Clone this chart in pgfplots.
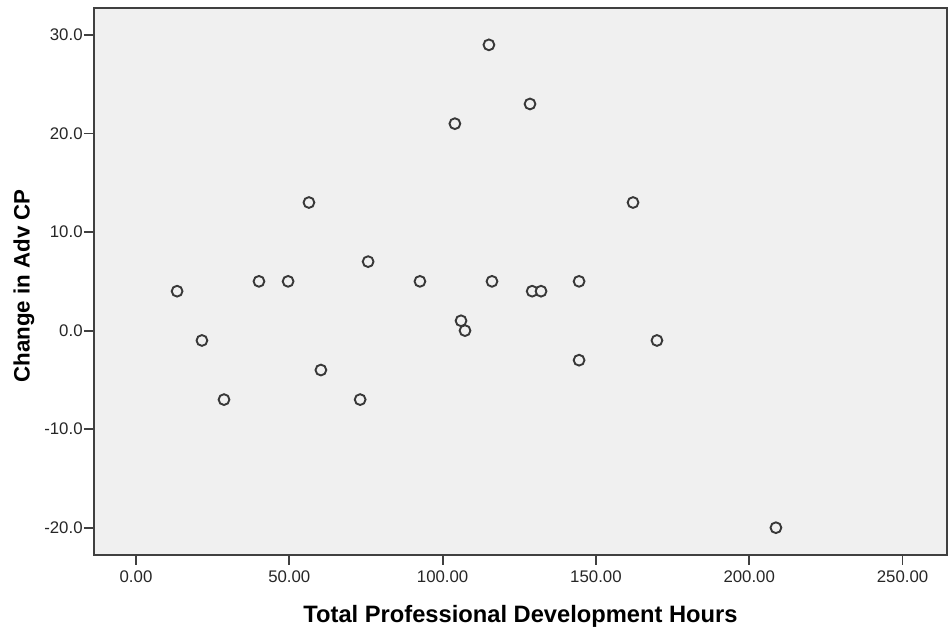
\documentclass[border=0pt]{standalone}
\usepackage{pgfplots}
\pgfplotsset{compat=1.18}
\usepackage{fontspec}
\setmainfont{Liberation Sans}
\definecolor{bgc}{HTML}{F0F0F0}
\definecolor{axc}{HTML}{404040}
\definecolor{mk}{HTML}{383838}
\begin{document}
\begin{tikzpicture}[x=1bp,y=1bp]
\useasboundingbox (-94,-80) rectangle (854,555);
\begin{axis}[
  at={(0,0)}, anchor=south west,
  scale only axis, width=853bp, height=547bp,
  xmin=-13.7, xmax=264.5, ymin=-22.77, ymax=32.74,
  axis background/.style={fill=bgc},
  axis line style={axc, line width=1.8bp},
  xtick={0,50,100,150,200,250},
  ytick={-20,-10,0,10,20,30},
  tick align=outside, tick pos=left,
  major tick length=10bp,
  tick style={axc, line width=1.8bp},
  /pgf/number format/assume math mode=true,
  xticklabel={\pgfmathprintnumber[fixed,fixed zerofill,precision=2]{\tick}},
  yticklabel={\pgfmathprintnumber[fixed,fixed zerofill,precision=1]{\tick}},
  ticklabel style={font=\fontsize{16.8bp}{19bp}\selectfont, text=black!85, inner sep=1.2bp},
  xticklabel style={yshift=-4.5bp},
  xlabel={\textbf{Total Professional Development Hours}},
  ylabel={\textbf{Change in Adv CP}},
  xlabel style={font=\fontsize{23.7bp}{26bp}\selectfont, at={(axis description cs:0.5,-0.1225)}, anchor=base},
  ylabel style={font=\fontsize{22.3bp}{26bp}\selectfont, at={(axis description cs:-0.0821,0.4918)}, anchor=center},
]
\addplot[only marks, mark=*, mark size=5.4bp, mark options={draw=mk, fill=bgc, line width=1.9bp}] coordinates {
(13.4,4) (21.5,-1) (28.7,-7) (40.1,5) (49.6,5) (56.4,13) (60.3,-4)
(73.1,-7) (75.7,7) (92.6,5) (104.0,21) (106.0,1) (107.3,0) (115.1,29)
(116.1,5) (128.5,23) (129.2,4) (132.1,4) (144.5,5) (144.5,-3)
(162.1,13) (169.9,-1) (208.7,-20)
};
\end{axis}
\end{tikzpicture}
\end{document}
